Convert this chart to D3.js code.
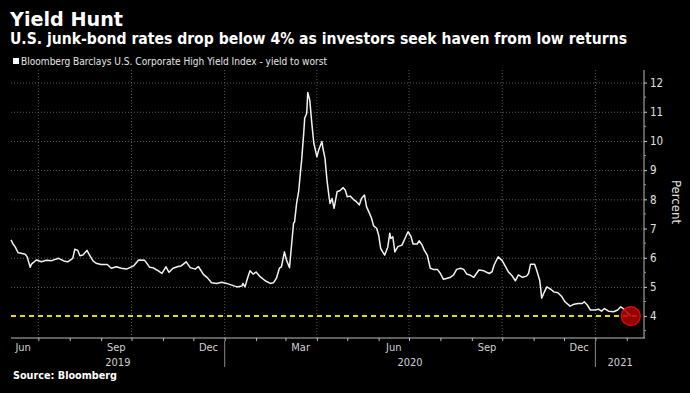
<!DOCTYPE html>
<html>
<head>
<meta charset="utf-8">
<script src="https://cdn.jsdelivr.net/npm/d3@7"></script>
<style>
html,body{margin:0;padding:0;background:#000;}
svg{display:block;}
text{font-family:"DejaVu Sans Condensed","Liberation Sans Narrow","DejaVu Sans",sans-serif;}
</style>
</head>
<body>
<svg id="chart" width="690" height="393"></svg>
<script>
// ---- data ----
const dates = [
"2019-06-04","2019-06-06","2019-06-08","2019-06-11","2019-06-14","2019-06-18","2019-06-20","2019-06-23","2019-06-24","2019-06-29",
"2019-07-04","2019-07-09","2019-07-14","2019-07-21","2019-07-26","2019-07-30","2019-08-04","2019-08-06","2019-08-09","2019-08-11",
"2019-08-14","2019-08-18","2019-08-20","2019-08-24","2019-08-27","2019-09-01","2019-09-07","2019-09-11","2019-09-16","2019-09-21",
"2019-09-26","2019-10-03","2019-10-08","2019-10-14","2019-10-19","2019-10-22","2019-10-26","2019-10-31","2019-11-04","2019-11-07",
"2019-11-11","2019-11-16","2019-11-19","2019-11-24","2019-11-28","2019-12-03","2019-12-06","2019-12-11","2019-12-15","2019-12-19",
"2019-12-24","2019-12-29","2020-01-03","2020-01-08","2020-01-13","2020-01-18","2020-01-19","2020-01-21","2020-01-24","2020-01-26",
"2020-01-29","2020-02-01","2020-02-05","2020-02-10","2020-02-15","2020-02-18","2020-02-21","2020-02-24","2020-02-26","2020-02-29",
"2020-03-02","2020-03-05","2020-03-07","2020-03-09","2020-03-10","2020-03-12","2020-03-14","2020-03-16","2020-03-17","2020-03-19",
"2020-03-20","2020-03-22","2020-03-23","2020-03-25","2020-03-27","2020-03-29","2020-04-01","2020-04-03","2020-04-06","2020-04-07",
"2020-04-09","2020-04-11","2020-04-13","2020-04-14","2020-04-16","2020-04-18","2020-04-21","2020-04-24","2020-04-27","2020-04-29",
"2020-05-01","2020-05-04","2020-05-07","2020-05-10","2020-05-13","2020-05-15","2020-05-18","2020-05-20","2020-05-23","2020-05-25",
"2020-05-27","2020-05-30","2020-06-01","2020-06-03","2020-06-05","2020-06-07","2020-06-10","2020-06-12","2020-06-13","2020-06-15",
"2020-06-17","2020-06-20","2020-06-24","2020-06-27","2020-06-30","2020-07-03","2020-07-05","2020-07-09","2020-07-11","2020-07-14",
"2020-07-16","2020-07-19","2020-07-22","2020-07-25","2020-07-29","2020-08-01","2020-08-04","2020-08-07","2020-08-11","2020-08-14",
"2020-08-17","2020-08-21","2020-08-24","2020-08-27","2020-08-30","2020-09-03","2020-09-08","2020-09-13","2020-09-18","2020-09-21",
"2020-09-23","2020-09-27","2020-10-01","2020-10-04","2020-10-07","2020-10-11","2020-10-14","2020-10-17","2020-10-21","2020-10-25",
"2020-10-27","2020-10-29","2020-11-02","2020-11-04","2020-11-07","2020-11-08","2020-11-09","2020-11-11","2020-11-14","2020-11-18",
"2020-11-21","2020-11-25","2020-11-29","2020-12-02","2020-12-07","2020-12-11","2020-12-15","2020-12-19","2020-12-21","2020-12-24",
"2020-12-27","2021-01-01","2021-01-04","2021-01-07","2021-01-10","2021-01-14","2021-01-19","2021-01-23","2021-01-26","2021-01-29",
"2021-02-01","2021-02-05"
];
const yields = [
6.61,6.47,6.38,6.17,6.15,6.12,6.03,5.67,5.77,5.92,
5.86,5.91,5.90,5.98,5.89,5.86,5.98,6.29,6.25,6.07,
6.09,6.25,6.12,5.89,5.81,5.77,5.77,5.64,5.69,5.64,
5.61,5.72,5.92,5.91,5.67,5.66,5.58,5.46,5.69,5.50,
5.64,5.70,5.72,5.86,5.66,5.61,5.70,5.43,5.31,5.14,
5.12,5.16,5.12,5.06,5.00,5.03,5.12,5.00,5.35,5.55,
5.44,5.51,5.35,5.21,5.12,5.14,5.29,5.64,5.69,6.20,
5.92,5.66,6.43,7.18,7.23,7.86,8.26,9.01,9.35,10.26,
10.78,10.95,11.66,11.40,10.61,9.92,9.46,9.71,9.98,9.75,
9.41,8.66,8.09,7.86,8.03,7.69,8.26,8.30,8.40,8.32,
8.09,8.11,8.00,7.92,7.81,8.03,8.15,7.75,7.52,7.35,
7.09,7.01,6.78,6.32,6.20,6.09,6.36,6.84,6.66,6.72,
6.20,6.38,6.43,6.66,6.89,6.72,6.47,6.47,6.58,6.43,
6.26,6.09,5.64,5.60,5.60,5.46,5.26,5.29,5.33,5.41,
5.60,5.64,5.60,5.44,5.41,5.33,5.58,5.55,5.46,5.52,
5.75,6.03,5.90,5.71,5.52,5.37,5.21,5.41,5.33,5.37,
5.46,5.78,5.78,5.58,5.23,4.95,4.61,4.78,5.00,4.92,
4.83,4.80,4.66,4.49,4.34,4.41,4.43,4.43,4.49,4.38,
4.21,4.21,4.24,4.17,4.26,4.17,4.15,4.21,4.32,4.24,
4.13,4.00
];
const yTicks = [4,5,6,7,8,9,10,11,12];
const monthLabels = ["Jun","Sep","Dec","Mar","Jun","Sep","Dec"];
const monthLabelDates = ["2019-06-16","2019-09-16","2019-12-16","2020-03-16","2020-06-16","2020-09-16","2020-12-16"];
const yearLabels = ["2019","2020","2021"];
const yearStarts = ["2020-01-01","2021-01-01"];
const threshold = 4;

const titleText = "Yield Hunt";
const subtitleText = "U.S. junk-bond rates drop below 4% as investors seek haven from low returns";
const legendText = "Bloomberg Barclays U.S. Corporate High Yield Index - yield to worst";
const sourceText = "Source: Bloomberg";
const yAxisTitle = "Percent";

// ---- drawing ----
const parse = d3.timeParse("%Y-%m-%d");
const data = dates.map((d,i)=>({date:parse(d), v:yields[i]}));
const svg = d3.select("#chart");
svg.append("rect").attr("width",690).attr("height",393).attr("fill","#000");

const xStart = parse("2019-06-04"), xEnd = parse("2021-02-19");
const x = d3.scaleTime().domain([xStart, xEnd]).range([11, 645]);
const y = d3.scaleLinear().domain([3.25, 12.43]).range([338, 70]);
const [x0, x1] = x.range();
const [yb, yt] = y.range();

// titles
svg.append("text").attr("x",10).attr("y",26).text(titleText)
  .attr("fill","#fff").attr("font-size",20).attr("font-weight","bold")
  .style("font-family","'DejaVu Sans',sans-serif")
  .attr("textLength",113).attr("lengthAdjust","spacingAndGlyphs");
svg.append("text").attr("x",10).attr("y",44).text(subtitleText)
  .attr("fill","#fff").attr("font-size",15).attr("font-weight","bold")
  .attr("textLength",617).attr("lengthAdjust","spacingAndGlyphs");
svg.append("rect").attr("x",13).attr("y",58).attr("width",6).attr("height",6).attr("fill","#fff");
svg.append("text").attr("x",21).attr("y",65).text(legendText)
  .attr("fill","#e6e6e6").attr("font-size",10)
  .attr("textLength",306).attr("lengthAdjust","spacingAndGlyphs");

// grid
const gridColor = "#5a5a5a";
const quarterTicks = d3.timeMonth.every(3).range(parse("2019-07-01"), xEnd);
svg.append("g").selectAll("line").data(quarterTicks).join("line")
  .attr("x1",d=>x(d)).attr("x2",d=>x(d)).attr("y1",yt).attr("y2",yb)
  .attr("stroke",gridColor).attr("stroke-width",1).attr("stroke-dasharray","1,2");
svg.append("g").selectAll("line").data(yTicks.filter(t=>t>threshold)).join("line")
  .attr("x1",x0).attr("x2",x1).attr("y1",d=>y(d)+0.5).attr("y2",d=>y(d)+0.5)
  .attr("stroke",gridColor).attr("stroke-width",1).attr("stroke-dasharray","1,2");

// threshold line
svg.append("line").attr("x1",x0).attr("x2",x1-5)
  .attr("y1",y(threshold)).attr("y2",y(threshold))
  .attr("stroke","#e3dc0b").attr("stroke-width",2).attr("stroke-dasharray","5,4");

// x axis
const monthTicks = d3.timeMonth.range(parse("2019-07-01"), xEnd);
const xAxis = svg.append("g").attr("transform",`translate(0,${yb})`)
  .call(d3.axisBottom(x).tickValues(monthTicks).tickSize(3).tickFormat(""));
xAxis.select(".domain").attr("stroke","#bbb").attr("d",`M${x0},0H${x1}`);
xAxis.selectAll(".tick line").attr("stroke","#bbb");

svg.append("g").selectAll("text").data(monthLabels).join("text")
  .attr("x",(d,i)=>x(parse(monthLabelDates[i]))).attr("y",yb+13)
  .attr("text-anchor","middle").attr("fill","#d0d0d0").attr("font-size",11).text(d=>d);
// year separators
svg.append("g").selectAll("line").data(yearStarts).join("line")
  .attr("x1",d=>x(parse(d))).attr("x2",d=>x(parse(d))).attr("y1",yb+3).attr("y2",yb+29)
  .attr("stroke","#888").attr("stroke-width",1);
const yearBounds = [xStart, ...yearStarts.map(parse), xEnd];
svg.append("g").selectAll("text").data(yearLabels).join("text")
  .attr("x",(d,i)=>(x(yearBounds[i])+x(yearBounds[i+1]))/2).attr("y",yb+28)
  .attr("text-anchor","middle").attr("fill","#d0d0d0").attr("font-size",11).text(d=>d);

// y axis
const yAxis = svg.append("g").attr("transform",`translate(${x1-1},0)`)
  .call(d3.axisRight(y).tickValues(yTicks).tickSize(3).tickPadding(3).tickFormat(d3.format("d")));
yAxis.select(".domain").attr("stroke","#bbb").attr("d",`M0,${yt}V${yb}`);
yAxis.selectAll(".tick line").attr("stroke","#ccc");
yAxis.selectAll(".tick text").attr("fill","#e0e0e0").attr("font-size",11.5)
  .style("font-family","'DejaVu Sans Condensed','DejaVu Sans',sans-serif");
const halfTicks = d3.range(3.5, 12.5, 1);
yAxis.append("g").selectAll("line").data(halfTicks).join("line")
  .attr("x1",0).attr("x2",2).attr("y1",d=>y(d)).attr("y2",d=>y(d)).attr("stroke","#999");
svg.append("text").attr("transform",`translate(672,${(yt+yb)/2 - 2}) rotate(90)`)
  .attr("text-anchor","middle").attr("fill","#e0e0e0").attr("font-size",13).text(yAxisTitle);

// line
const line = d3.line().x(d=>x(d.date)).y(d=>y(d.v));
svg.append("path").datum(data).attr("d",line).attr("fill","none")
  .attr("stroke","#f2f2f2").attr("stroke-width",1.5).attr("stroke-linejoin","round");

// highlight circle
const last = data[data.length-1];
svg.append("circle").attr("cx",x(last.date)).attr("cy",y(last.v)).attr("r",9.5)
  .attr("fill","#b00000").attr("fill-opacity",0.85).attr("stroke","#e01010").attr("stroke-width",1.2);

// source
svg.append("text").attr("x",13).attr("y",379).text(sourceText)
  .attr("fill","#fff").attr("font-size",10.5).attr("font-weight","bold")
  .style("font-family","'DejaVu Sans',sans-serif")
  .attr("textLength",104).attr("lengthAdjust","spacingAndGlyphs");
</script>
</body>
</html>
